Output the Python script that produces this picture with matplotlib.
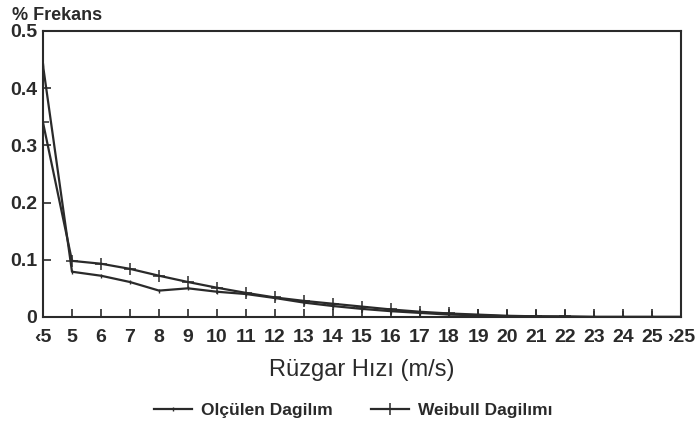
import matplotlib
matplotlib.use("Agg")
import matplotlib.pyplot as plt
import numpy as np

categories = ["‹5", "5", "6", "7", "8", "9", "10", "11", "12", "13", "14", "15",
              "16", "17", "18", "19", "20", "21", "22", "23", "24", "25", "›25"]
measured = [0.44, 0.079, 0.072, 0.061, 0.046, 0.050, 0.044, 0.040, 0.033, 0.025,
            0.019, 0.014, 0.010, 0.007, 0.004, 0.003, 0.001, 0.001, 0.0, 0.0,
            0.0, 0.0, 0.0]
weibull = [0.34, 0.098, 0.093, 0.084, 0.072, 0.061, 0.051, 0.042, 0.034, 0.028,
           0.023, 0.018, 0.013, 0.009, 0.006, 0.004, 0.002, 0.001, 0.001, 0.0,
           0.0, 0.0, 0.0]
yticks = [0, 0.1, 0.2, 0.3, 0.4, 0.5]
ytick_labels = ["0", "0.1", "0.2", "0.3", "0.4", "0.5"]

plt.rcParams['font.family'] = ['Liberation Sans', 'DejaVu Sans']
ink = "#2a2a2a"

fig = plt.figure(figsize=(6.99, 4.30), dpi=100)
ax = fig.add_axes([0.0615, 0.263, 0.913, 0.665])

x = np.arange(len(categories))
l1, = ax.plot(x, measured, color=ink, lw=1.6, marker='|', ms=3, mew=1.0)
l2, = ax.plot(x, weibull, color=ink, lw=1.6, marker='+', ms=9, mew=1.1)

ax.set_xlim(0, len(categories) - 1)
ax.set_ylim(0, 0.5)
ax.set_xticks(x)
ax.set_xticklabels(categories)
ax.set_yticks(yticks)
ax.set_yticklabels(ytick_labels)
ax.tick_params(axis='both', direction='in', length=6, width=1.2, color=ink,
               labelcolor=ink, labelsize=14)
ax.tick_params(axis='x', pad=9)
ax.tick_params(axis='y', pad=4)
for lab in ax.get_xticklabels() + ax.get_yticklabels():
    lab.set_fontweight('bold')
for s in ax.spines.values():
    s.set_color(ink)
    s.set_linewidth(1.5)

fig.text(0.017, 0.945, "% Frekans", fontsize=13, fontweight='bold', color=ink,
         ha='left', va='bottom')
ax.set_xlabel("Rüzgar Hızı (m/s)", fontsize=17, color=ink, labelpad=9)

fig.legend([l1, l2], ["Olçülen Dagilım", "Weibull Dagilımı"], loc='center',
           bbox_to_anchor=(0.505, 0.045), ncol=2, frameon=False,
           prop={'weight': 'bold', 'size': 12.5}, handlelength=2.2,
           handletextpad=0.5, columnspacing=2.2, labelcolor=ink)

fig.savefig("out.png", dpi=100, facecolor='white')
